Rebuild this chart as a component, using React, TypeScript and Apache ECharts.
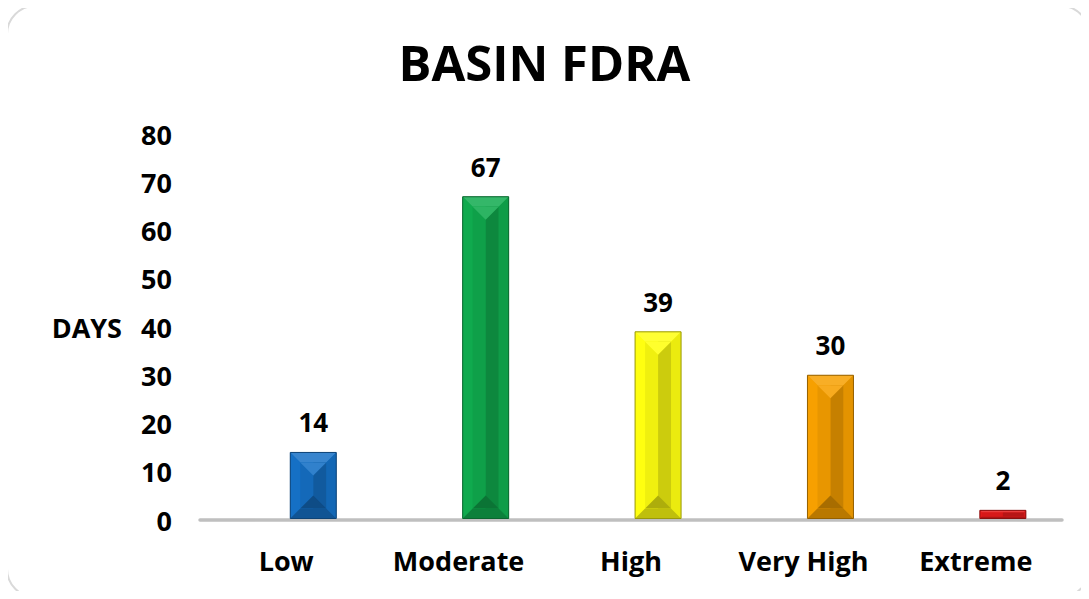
import React, { useEffect, useRef } from "react";
import * as echarts from "echarts";

const categories = ["Low", "Moderate", "High", "Very High", "Extreme"];
const values = [14, 67, 39, 30, 2];
const barColors = ["#1570C5", "#10AA4E", "#FFFF10", "#F7A000", "#E51B1B"];
const yTicks = { min: 0, max: 80, interval: 10 };
const titleText = "BASIN FDRA";
const yName = "DAYS";

const FONT = "'Open Sans', 'Noto Sans', sans-serif";

function mix(hex: string, target: number, t: number): string {
  const n = parseInt(hex.slice(1), 16);
  const r = (n >> 16) & 255, g = (n >> 8) & 255, b = n & 255;
  const f = (c: number) => Math.round(c + (target - c) * t);
  return `rgb(${f(r)},${f(g)},${f(b)})`;
}

export default function App() {
  const ref = useRef<HTMLDivElement>(null);
  useEffect(() => {
    if (!ref.current) return;
    const chart = echarts.init(ref.current, null, { renderer: "svg" });
    const option: any = {
      animation: false,
      backgroundColor: "#ffffff",
      title: {
        text: titleText,
        left: "center",
        top: 32,
        textStyle: { fontFamily: FONT, fontWeight: "bold", fontSize: 49, color: "#000" },
      },
      graphic: [
        {
          type: "rect",
          shape: { x: 7, y: 6, width: 1082, height: 591, r: 28 },
          style: { fill: "none", stroke: "#d9d9d9", lineWidth: 2 },
          silent: true,
          z: -1,
        },
      ],
      grid: { left: 200, right: 27, top: 134, bottom: 79, containLabel: false },
      xAxis: {
        type: "category",
        data: categories,
        axisLine: { lineStyle: { color: "#bfbfbf", width: 3.5 } },
        axisTick: { show: false },
        axisLabel: { interval: 0, fontFamily: FONT, fontWeight: "bold", fontSize: 27, color: "#000", margin: 27 },
      },
      yAxis: {
        type: "value",
        min: yTicks.min,
        max: yTicks.max,
        interval: yTicks.interval,
        name: yName,
        nameLocation: "middle",
        nameRotate: 0,
        nameGap: 78,
        nameTextStyle: { fontFamily: FONT, fontWeight: "bold", fontSize: 27, color: "#000", align: "right" },
        splitLine: { show: false },
        axisLine: { show: false },
        axisTick: { show: false },
        axisLabel: { fontFamily: FONT, fontWeight: "bold", fontSize: 27, color: "#000", margin: 28 },
      },
      series: [
        {
          type: "custom",
          data: values.map((v, i) => [i, v]),
          renderItem: (params: any, api: any) => {
            const idx = api.value(0);
            const val = api.value(1);
            const c = barColors[idx];
            const base = api.coord([idx, 0]);
            const top = api.coord([idx, val]);
            const band = api.size([1, 0])[0];
            const w = 46;
            const xc = base[0] + band * 0.157;
            const x0 = xc - w / 2, x1 = xc + w / 2;
            const y0 = top[1], y1 = base[1] - 1.5;
            const h = y1 - y0;
            const b = Math.min(10, h * 0.25);
            const dark = mix(c, 0, 0.4);
            const children: any[] = [
              { type: "rect", shape: { x: x0, y: y0, width: w, height: h }, style: { fill: c } },
              { type: "polygon", shape: { points: [[x0, y0], [x1, y0], [x1 - b, y0 + b], [x0 + b, y0 + b]] }, style: { fill: mix(c, 255, 0.15) } },
              { type: "polygon", shape: { points: [[x0, y0], [x0 + b, y0 + b], [x0 + b, y1 - b], [x0, y1]] }, style: { fill: c } },
              { type: "polygon", shape: { points: [[x1, y0], [x1, y1], [x1 - b, y1 - b], [x1 - b, y0 + b]] }, style: { fill: mix(c, 0, 0.08) } },
              { type: "polygon", shape: { points: [[x0, y1], [x1, y1], [x1 - b, y1 - b], [x0 + b, y1 - b]] }, style: { fill: mix(c, 0, 0.25) } },
            ];
            const iw = w - 2 * b;
            const ih = h - 2 * b;
            if (ih > 4) {
              children.push(
                { type: "rect", shape: { x: x0 + b, y: y0 + b, width: iw / 2, height: ih }, style: { fill: mix(c, 0, 0.06) } },
                { type: "rect", shape: { x: xc, y: y0 + b, width: iw / 2, height: ih }, style: { fill: mix(c, 0, 0.2) } }
              );
              if (ih > iw) {
                const t = iw / 2;
                children.push(
                  { type: "polygon", shape: { points: [[x0 + b, y0 + b], [x1 - b, y0 + b], [xc, y0 + b + t]] }, style: { fill: mix(c, 255, 0.12) } },
                  { type: "polygon", shape: { points: [[x0 + b, y1 - b], [x1 - b, y1 - b], [xc, y1 - b - t]] }, style: { fill: mix(c, 0, 0.32) } }
                );
              }
            }
            children.push({
              type: "rect",
              shape: { x: x0, y: y0, width: w, height: h },
              style: { fill: "none", stroke: dark, lineWidth: 1 },
            });
            children.push({
              type: "text",
              style: {
                text: String(val),
                x: xc,
                y: y0 - 17,
                align: "center",
                verticalAlign: "bottom",
                fontFamily: FONT,
                fontWeight: "bold",
                fontSize: 26,
                fill: "#000",
              },
            });
            return { type: "group", children };
          },
        },
      ],
    };
    chart.setOption(option);
    return () => chart.dispose();
  }, []);
  return <div ref={ref} style={{ width: 1089, height: 599, margin: -8 }} />;
}
